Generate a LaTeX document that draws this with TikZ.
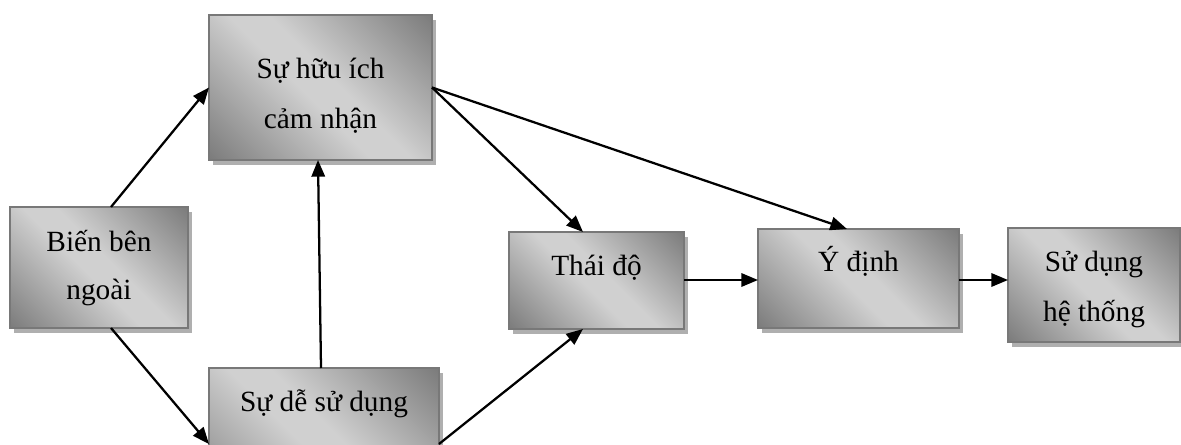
\documentclass[tikz,border=0pt]{standalone}
\usepackage{fontspec}
\setmainfont{Liberation Serif}
\usetikzlibrary{arrows.meta,calc,shadows}
\definecolor{gdark}{RGB}{100,100,100}
\definecolor{glight}{RGB}{208,208,208}
\definecolor{gborder}{RGB}{120,120,120}
\definecolor{gshadow}{RGB}{175,175,175}
\pgfdeclareverticalshading{boxshade}{100bp}{color(0bp)=(gdark); color(6bp)=(gdark); color(46bp)=(glight); color(54bp)=(glight); color(94bp)=(gdark); color(100bp)=(gdark)}
\newcommand\boxlines[2]{\raisebox{#1}[0pt][0pt]{\begin{tabular}[t]{@{}c@{}}#2\end{tabular}}}
\tikzset{
  conceptbox/.style={draw=gborder, line width=1.3pt, shade, shading=boxshade, shading angle=-45,
    inner sep=0pt, outer sep=0pt,
    drop shadow={shadow xshift=3pt, shadow yshift=-3.5pt, fill=gshadow, opacity=1},
    font=\fontsize{22pt}{37.5pt}\selectfont},
  link/.style={line width=1.7pt, -{Triangle[length=12.5pt,width=10pt]}}
}
\begin{document}
\begin{tikzpicture}[x=0.75pt, y=-0.75pt]
\useasboundingbox (0,0) rectangle (1181,445);
\clip (0,0) rectangle (1181,445);
\node[conceptbox, minimum width=167.25pt, minimum height=108.75pt] (P) at (320.5,87.5)
  {\boxlines{7.1pt}{Sự hữu ích\\cảm nhận}};
\node[conceptbox, minimum width=133.5pt, minimum height=90.75pt] (B) at (99,267.5)
  {\boxlines{11.9pt}{Biến bên\\[-1.5pt]ngoài}};
\node[conceptbox, minimum width=172.5pt, minimum height=114pt] (E) at (324,444)
  {\boxlines{24.75pt}{Sự dễ sử dụng\\[5pt]cảm nhận}};
\node[conceptbox, minimum width=131.25pt, minimum height=72.75pt] (T) at (596.5,280.5)
  {\boxlines{3.4pt}{Thái độ}};
\node[conceptbox, minimum width=150.75pt, minimum height=74.25pt] (Y) at (858.5,278.5)
  {\boxlines{5.1pt}{Ý định}};
\node[conceptbox, minimum width=129pt, minimum height=85.5pt] (S) at (1094,285)
  {\boxlines{10pt}{Sử dụng\\hệ thống}};

\coordinate (ty) at ($(T.east)+(0,-0.5)$);
\coordinate (ys) at ($(Y.east)+(0,1.5)$);

\draw[link] ($(B.north)+(12,0)$) -- (P.west);
\draw[link] ($(B.south)+(12,0)$) -- (E.west);
\draw[link] ($(E.north)+(-3,0)$) -- ($(P.south)+(-2.5,0)$);
\draw[link] (E.east) -- ($(T.south)+(-13.5,0)$);
\draw[link] (P.east) -- ($(T.north)+(-13.5,0)$);
\draw[link] (P.east) -- ($(Y.north)+(-11.5,0)$);
\draw[link] (ty) -- (ty -| Y.west);
\draw[link] (ys) -- (ys -| S.west);
\end{tikzpicture}
\end{document}
